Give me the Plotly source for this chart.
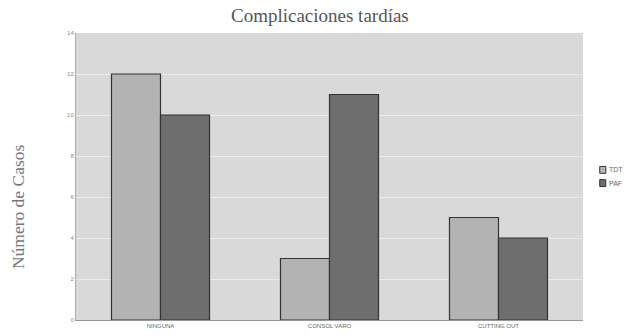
import plotly.graph_objects as go

categories = ["NINGUNA", "CONSOL VARO", "CUTTING OUT"]
series_names = ["TDT", "PAF"]
tdt = [12, 3, 5]
paf = [10, 11, 4]
y_ticks = [0, 2, 4, 6, 8, 10, 12, 14]
colors = ["#b3b3b3", "#6e6e6e"]

fig = go.Figure()
for name, vals, col in zip(series_names, [tdt, paf], colors):
    fig.add_trace(go.Bar(name=name, x=categories, y=vals, showlegend=False,
                         marker=dict(color=col, line=dict(color="#333333", width=1.2))))

# compact legend drawn in paper coordinates
lx0 = 1.033
for i, (name, col) in enumerate(zip(series_names, colors)):
    yc = 0.523 - i * 0.046
    fig.add_shape(type="rect", xref="paper", yref="paper",
                  x0=lx0, x1=lx0 + 0.012, y0=yc - 0.012, y1=yc + 0.012,
                  fillcolor=col, line=dict(color="#333333", width=1))
    fig.add_annotation(xref="paper", yref="paper", x=lx0 + 0.014, y=yc, text=name,
                       showarrow=False, xanchor="left", yanchor="middle",
                       font=dict(size=7, color="#666666", family="Liberation Sans"))

fig.add_annotation(xref="paper", yref="paper", x=-0.114, y=0.394, text="Número de Casos",
                   textangle=-90, showarrow=False, xanchor="center", yanchor="middle",
                   font=dict(family="Liberation Serif", size=17.5, color="#777777"))

fig.update_layout(
    width=626, height=335,
    paper_bgcolor="white", plot_bgcolor="#d9d9d9",
    barmode="group", bargap=0.42, bargroupgap=0,
    margin=dict(l=76, r=43, t=33, b=15, autoexpand=False),
    title=dict(text="Complicaciones tardías", xref="paper", x=0.481, xanchor="center",
               y=0.955, yanchor="middle",
               font=dict(family="Liberation Serif", size=19, color="#555555")),
    font=dict(family="Liberation Sans", color="#777777"),
    showlegend=False,
)
fig.update_yaxes(range=[0, 14], tickvals=y_ticks, ticktext=[str(v) for v in y_ticks],
                 tickfont=dict(size=6, color="#888888"), showgrid=True, gridcolor="#ececec",
                 gridwidth=1, zeroline=False, showline=True, linecolor="#aaaaaa",
                 ticks="", ticklen=3)
fig.update_xaxes(tickfont=dict(size=6, color="#666666"), showline=True, linecolor="#999999",
                 ticks="", mirror=False)

fig.write_html("out.html", config={"displayModeBar": False},
               post_script="document.body.style.margin='0';document.body.style.overflow='hidden';")
